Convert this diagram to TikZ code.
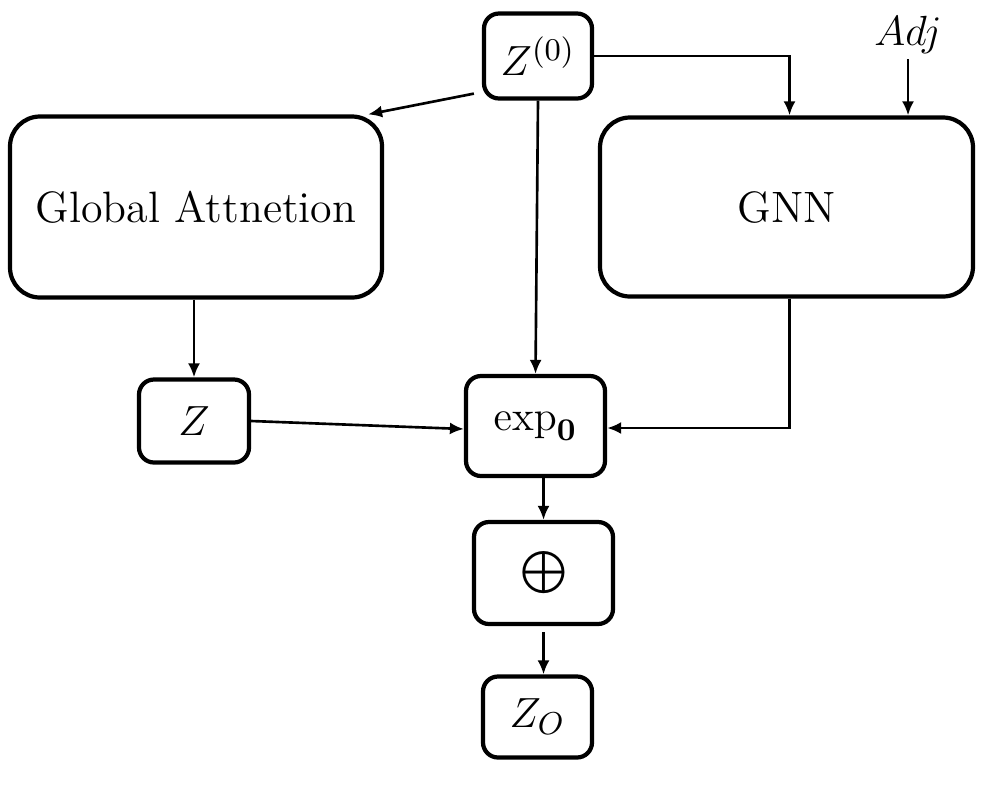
\documentclass[tikz,border=0pt]{standalone}
\usepackage{amsmath}
\usetikzlibrary{arrows.meta}
\begin{document}
\begin{tikzpicture}[
  font=\fontsize{12.5}{15}\selectfont,
  blk/.style={draw, line width=1.2pt, rounded corners=0.3cm, align=center},
  sblk/.style={draw, line width=1.2pt, rounded corners=0.15cm, align=center},
  link/.style={line width=0.75pt, -{Latex[length=1.4mm,width=1.2mm]}}
]
\useasboundingbox (0,0) rectangle (9.82,7.84);

\node[sblk, minimum width=1.08cm, minimum height=0.85cm] (Z0) at (5.38,7.28) {\(Z^{(0)}\)};
\node (Adj) at (9.08,7.49) {\(Adj\)};

\node[blk, minimum width=3.72cm, minimum height=1.81cm] (GA) at (1.96,5.77) {Global Attnetion};
\node[blk, minimum width=3.73cm, minimum height=1.79cm] (GNN) at (7.865,5.77) {GNN};

\node[sblk, minimum width=1.10cm, minimum height=0.83cm] (Z) at (1.94,3.63) {\(Z\)};
\node[sblk, minimum width=1.39cm, minimum height=1.00cm] (EXP) at (5.355,3.58) {\(\exp_{\mathbf{0}}\)};
\node[sblk, minimum width=1.39cm, minimum height=1.02cm] (OP) at (5.435,2.11) {\(\bigoplus\)};
\node[sblk, minimum width=1.09cm, minimum height=0.81cm] (ZO) at (5.375,0.67) {\(Z_O\)};

% top inputs
\draw[link] ([shift={(-0.08,0.07)}]Z0.south west) -- ([xshift=-0.16cm]GA.north east);
\draw[link] (Z0.south) -- (EXP.north);
\draw[link] (Z0.east) -| ([xshift=0.03cm]GNN.north);
\draw[link] ([yshift=0.07cm]Adj.south) -- (Adj.south |- GNN.north);

% middle
\draw[link] (GA.south -| Z.north) -- (Z.north);
\draw[link] (Z.east) -- ([yshift=-0.03cm]EXP.west);
\draw[link] ([xshift=0.03cm]GNN.south) |- ([yshift=-0.02cm]EXP.east);

% output
\draw[link] (EXP.south -| OP.north) -- (OP.north);
\draw[link] ([yshift=-0.06cm]OP.south) -- (OP.south |- ZO.north);
\end{tikzpicture}
\end{document}
